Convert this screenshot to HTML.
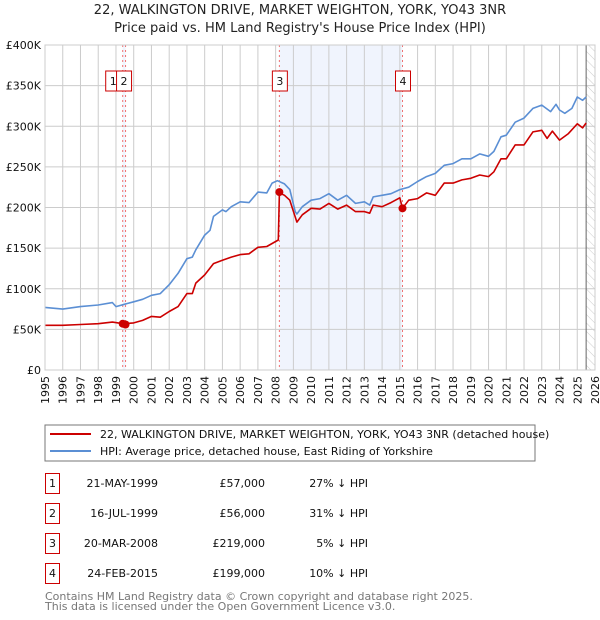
<!DOCTYPE html>
<html><head><meta charset="utf-8"><style>
body{margin:0;background:#fff;font-family:"Liberation Sans","DejaVu Sans",sans-serif;}
#wrap{position:relative;width:600px;height:620px;overflow:hidden;}
svg text{font-family:"DejaVu Sans","Liberation Sans",sans-serif;}
</style></head><body><div id="wrap">
<svg id="svg" width="600" height="620" xmlns="http://www.w3.org/2000/svg">
<defs><pattern id="hatch" width="6" height="6" patternUnits="userSpaceOnUse" patternTransform="rotate(-45)"><line x1="0" y1="0" x2="0" y2="6" stroke="#ccc" stroke-width="1"/></pattern></defs>
<text x="300" y="14" text-anchor="middle" font-size="13" fill="#222">22, WALKINGTON DRIVE, MARKET WEIGHTON, YORK, YO43 3NR</text>
<text x="300" y="32" text-anchor="middle" font-size="13" fill="#222">Price paid vs. HM Land Registry's House Price Index (HPI)</text>
<g id="plot"></g>
<rect x="45" y="425" width="490" height="36" fill="#fff" stroke="#777"/>
<line x1="50" y1="434" x2="91" y2="434" stroke="#cc0000" stroke-width="2"/>
<text x="100" y="438" font-size="11" fill="#111">22, WALKINGTON DRIVE, MARKET WEIGHTON, YORK, YO43 3NR (detached house)</text>
<line x1="50" y1="451" x2="91" y2="451" stroke="#5b8fd4" stroke-width="2"/>
<text x="100" y="455" font-size="11" fill="#111">HPI: Average price, detached house, East Riding of Yorkshire</text>
<g id="table" font-size="11" fill="#111"></g>
<text x="45" y="600" font-size="11" fill="#777">Contains HM Land Registry data © Crown copyright and database right 2025.</text>
<text x="45" y="610" font-size="11" fill="#777">This data is licensed under the Open Government Licence v3.0.</text>
</svg></div>
<script>
const hpiYears=[1995,1996,1997,1998,1998.8,1999,1999.5,2000,2000.5,2001,2001.5,2002,2002.5,2003,2003.3,2003.5,2004,2004.3,2004.5,2005,2005.2,2005.5,2006,2006.5,2007,2007.5,2007.8,2008.1,2008.5,2008.8,2009.1,2009.2,2009.5,2010,2010.5,2011,2011.5,2012,2012.5,2013,2013.3,2013.5,2014,2014.5,2015,2015.5,2016,2016.5,2017,2017.5,2018,2018.5,2019,2019.5,2020,2020.3,2020.7,2021,2021.5,2022,2022.5,2023,2023.5,2023.8,2024,2024.3,2024.7,2025,2025.3,2025.5];
const hpiValues=[77,75,78,80,83,78,81,84,87,92,94,105,119,137,139,148,166,172,189,197,195,201,207,206,219,218,230,233,229,222,195,192,201,209,211,217,209,215,205,207,203,213,215,217,222,225,232,238,242,252,254,260,260,266,263,269,287,289,305,310,322,326,318,327,320,316,322,336,332,336];
const priceYears=[1995,1996,1997,1998,1998.8,1999.4,2000,2000.5,2001,2001.5,2002,2002.5,2003,2003.3,2003.5,2004,2004.5,2005,2005.5,2006,2006.5,2007,2007.5,2008.15,2008.21,2008.5,2008.8,2009.2,2009.5,2010,2010.5,2011,2011.5,2012,2012.5,2013,2013.3,2013.5,2014,2014.5,2015,2015.15,2015.5,2016,2016.5,2017,2017.5,2018,2018.5,2019,2019.5,2020,2020.3,2020.7,2021,2021.5,2022,2022.5,2023,2023.3,2023.6,2024,2024.5,2025,2025.3,2025.5];
const priceValues=[55,55,56,57,59,57,58,61,66,65,72,78,94,94,107,117,131,135,139,142,143,151,152,160,218,215,209,182,191,199,198,205,198,203,195,195,193,203,201,206,212,199,209,211,218,215,230,230,234,236,240,238,244,260,260,277,277,293,295,285,294,283,291,303,298,304];
const saleLabels=["1","2","3","4"];
const saleYears=[1999.38,1999.54,2008.21,2015.15];
const saleValues=[57,56,219,199];
const saleDates=["21-MAY-1999","16-JUL-1999","20-MAR-2008","24-FEB-2015"];
const salePrices=["£57,000","£56,000","£219,000","£199,000"];
const saleDiffs=["27% ↓ HPI","31% ↓ HPI","5% ↓ HPI","10% ↓ HPI"];
const yTicks=[0,50,100,150,200,250,300,350,400];
const yTickLabels=["£0","£50K","£100K","£150K","£200K","£250K","£300K","£350K","£400K"];
const xTicks=[1995,1996,1997,1998,1999,2000,2001,2002,2003,2004,2005,2006,2007,2008,2009,2010,2011,2012,2013,2014,2015,2016,2017,2018,2019,2020,2021,2022,2023,2024,2025,2026];

const NS="http://www.w3.org/2000/svg";
const L=45,R=595,T=45,B=370,X0=1995,X1=2026;
const xs=v=>L+(v-X0)/(X1-X0)*(R-L);
const ys=v=>B-v/400*(B-T);
const plot=document.getElementById('plot');
function mk(tag,attrs,parent){const e=document.createElementNS(NS,tag);for(const k in attrs)e.setAttribute(k,attrs[k]);(parent||plot).appendChild(e);return e;}

let e;
e=mk('rect',{x:xs(saleYears[2]),y:T,width:xs(saleYears[3])-xs(saleYears[2]),height:B-T,fill:'#f0f4fd'});


e=mk('rect',{x:xs(saleYears[0]),y:T,width:xs(saleYears[1])-xs(saleYears[0]),height:B-T,fill:'#f0f4fd'});


e=mk('rect',{x:xs(2025.5),y:T,width:R-xs(2025.5),height:B-T,fill:'url(#hatch)'});



xTicks.forEach(t=>{
  e=mk('line',{x1:xs(t),x2:xs(t),y1:T,y2:B,stroke:'#ccc','stroke-width':1});
  
  
  e=mk('text',{x:0,y:0,transform:`translate(${xs(t)+4},${B+6}) rotate(-90)`,'text-anchor':'end','font-size':11,fill:'#111'});
  e.textContent=t;
  
  
});
yTicks.forEach((t,i)=>{
  e=mk('line',{x1:L,x2:R,y1:ys(t),y2:ys(t),stroke:'#ccc','stroke-width':1});
  
  
  e=mk('text',{x:L-4,y:ys(t)+4,'text-anchor':'end','font-size':11,fill:'#111'});
  e.textContent=yTickLabels[i];
  
  
});
e=mk('line',{x1:xs(2025.5),x2:xs(2025.5),y1:T,y2:B,stroke:'#666','stroke-width':1});



saleYears.forEach((y,i)=>{
  e=mk('line',{x1:xs(y),x2:xs(y),y1:T,y2:B,stroke:'#f07070','stroke-width':1,'stroke-dasharray':'2,3'});
  
  
});

function path(xa,va,color,name){
  let d=xa.map((x,i)=>(i?'L':'M')+xs(x).toFixed(1)+','+ys(va[i]).toFixed(1)).join('');
  e=mk('path',{d:d,fill:'none',stroke:color,'stroke-width':1.6,'stroke-linejoin':'round'});
  
  
}
path(hpiYears,hpiValues,'#5b8fd4','hpi-line');
path(priceYears,priceValues,'#cc0000','price-paid-line');

saleYears.forEach((y,i)=>{
  e=mk('circle',{cx:xs(y),cy:ys(saleValues[i]),r:4,fill:'#cc0000'});
  
  
});
const boxOff=[-10,-2,0,0];
saleYears.forEach((y,i)=>{
  const off=boxOff[i];
  const g=mk('g',{});
  
  
  mk('rect',{x:xs(y)-7+off,y:71,width:15,height:20,fill:'#fff',stroke:'#cc0000','stroke-width':1},g);
  const t=mk('text',{x:xs(y)+0.5+off,y:85,'text-anchor':'middle','font-size':11,fill:'#111'},g);
  t.textContent=saleLabels[i];
});
e=mk('rect',{x:L,y:T,width:R-L,height:B-T,fill:'none',stroke:'#ccc'});



const tbl=document.getElementById('table');
const rowY=[483,513,543,573];
saleLabels.forEach((lab,i)=>{
  const g=mk('g',{},tbl);
  
  
  mk('rect',{x:45.5,y:rowY[i]-9.5,width:14,height:20,fill:'none',stroke:'#cc0000'},g);
  let t=mk('text',{x:52.5,y:rowY[i]+4,'text-anchor':'middle'},g);t.textContent=lab;
  t=mk('text',{x:158,y:rowY[i]+4,'text-anchor':'end'},g);t.textContent=saleDates[i];
  t=mk('text',{x:265,y:rowY[i]+4,'text-anchor':'end'},g);t.textContent=salePrices[i];
  t=mk('text',{x:368,y:rowY[i]+4,'text-anchor':'end'},g);t.textContent=saleDiffs[i];
});
</script></body></html>
